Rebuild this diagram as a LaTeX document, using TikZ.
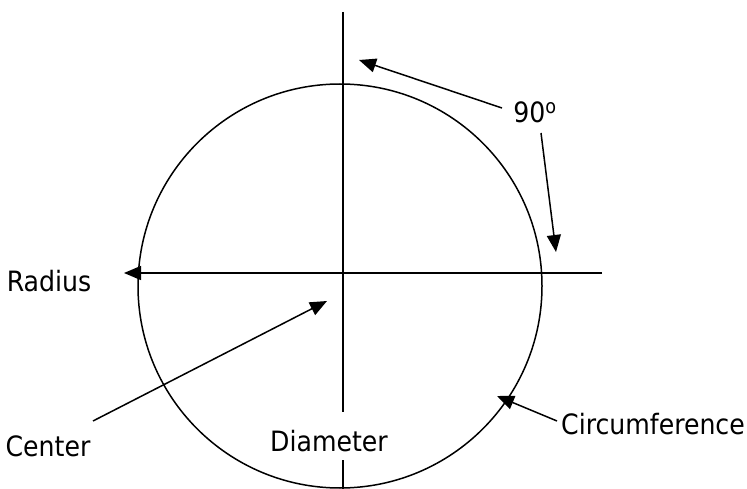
\documentclass[tikz,border=0pt]{standalone}
\usepackage{fontspec}
\setmainfont{DejaVu Sans Condensed}
\usetikzlibrary{arrows.meta}
\begin{document}
\begin{tikzpicture}[x=1pt,y=-1pt,
  ln/.style={line width=1.5pt},
  arr/.style={ln,-{Triangle[length=17pt,width=14pt]}},
  lbl/.style={font=\fontsize{28}{33}\selectfont,inner sep=0pt}]
\useasboundingbox (0,0) rectangle (747,489);
\draw[ln] (340,286) circle (202);
% labels
\node[lbl] (radius) at (49,281) {Radius};
\node[lbl] (deg) at (535,112) {90\textsuperscript{o}};
\node[lbl] (center) at (48,446) {Center};
\node[lbl] (diam) at (329,441) {Diameter};
\node[lbl] (circ) at (653,424) {Circumference};
% coordinates
\coordinate (vtop) at (343,12);
\coordinate (vmid1) at (343,412);
\coordinate (vmid2) at (343,460);
\coordinate (vbot) at (343,489);
\coordinate (hright) at (602,273);
\coordinate (hleft) at (124,273);
\coordinate (d1s) at (502,108);
\coordinate (d1e) at (359,60);
\coordinate (d2s) at (541,133);
\coordinate (d2e) at (556,252);
\coordinate (cs) at (93,421);
\coordinate (ce) at (327,301);
\coordinate (cfs) at (557,421);
\coordinate (cfe) at (497,396);
% lines
\draw[ln] (vtop) -- (vmid1);
\draw[ln] (vmid2) -- (vbot);
\draw[arr] (hright) -- (hleft);
\draw[arr] (d1s) -- (d1e);
\draw[arr] (d2s) -- (d2e);
\draw[arr] (cs) -- (ce);
\draw[arr] (cfs) -- (cfe);
\end{tikzpicture}
\end{document}
